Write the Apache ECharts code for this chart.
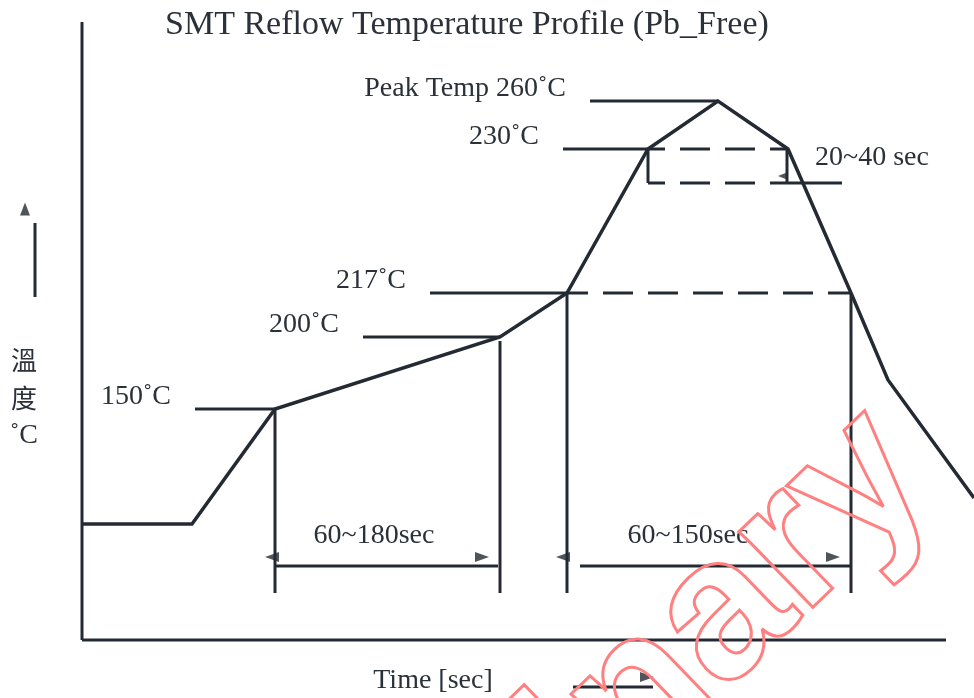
<!DOCTYPE html>
<html><head><meta charset="utf-8">
<script src="https://cdn.jsdelivr.net/npm/echarts@6/dist/echarts.min.js"></script>
<style>html,body{margin:0;padding:0;background:#fff}#c{width:974px;height:698px}</style>
</head><body><div id="c"></div><script>
// ---- schematic data (diagram units: time along x, temperature level along y) ----
const profileTime  = [0, 110, 193, 418, 485, 566, 636, 706, 769, 806, 892];
const profileLevel = [116, 116, 231, 303, 347, 491, 539, 491, 347, 260, 142];

// axes of the diagram (time axis and temperature axis)
const axisTimeEnd  = 864;
const axisLevelEnd = 618;

// solid temperature reference lines
const refLabels = ['150˚C', '200˚C', '217˚C', '230˚C', 'Peak Temp 260˚C'];
const refLevel  = [231, 303, 347, 491, 539];
const refFrom   = [113, 281, 348, 481, 508];
const refTo     = [193, 418, 485, 566, 636];

// dashed lines (217 liquidus span, 230 window top & bottom)
const dashLevel = [347, 491, 457];
const dashFrom  = [485, 566, 566];
const dashTo    = [769, 706, 706];

// vertical marker lines
const vertX      = [193, 418, 485, 769, 566, 705];
const vertTop    = [231, 299, 347, 347, 491, 491];
const vertBottom = [47, 47, 47, 47, 457, 457];

// extra solid segments: window bottom extension, dimension lines, axis-name arrows
const segX1 = [706, 193, 498, 491, -47];
const segY1 = [457, 74, 74, -47, 417];
const segX2 = [760, 416, 768, 571, -47];
const segY2 = [457, 74, 74, -47, 343];

// arrow heads: position and direction (deg, ccw from up)
const arrowX   = [190, 400, 481, 751, 701, 565, -57];
const arrowY   = [83, 83, 83, 83, 464, -37, 431];
const arrowDir = [90, -90, 90, -90, 90, -90, 0];

// annotations
const noteTexts = ['20~40 sec', '60~180sec', '60~150sec', 'Time [sec]'];
const noteX     = [733, 292, 606, 351];
const noteY     = [482, 104, 104, -41];
const noteAlign = ['left', 'center', 'center', 'center'];

const yNameChars = ['溫', '度', '˚C'];
const yNameX     = [-58, -58, -58];
const yNameY     = [280, 242, 204];

const titleText = 'SMT Reflow Temperature Profile (Pb_Free)';
const watermark = 'Preliminary';

// ---- chart ----
const INK = '#242a33';
const SERIF = '"Liberation Serif", "Times New Roman", serif';
const DASH_OFFSET = [9, 13, 13];
const chart = echarts.init(document.getElementById('c'), null, {renderer: 'canvas'});

function seg(a, b, dashed, w, off) {
  return {
    type: 'line', data: [a, b], symbol: 'none', clip: false, silent: true,
    animation: false, z: 3,
    lineStyle: {color: INK, width: w || 3, type: dashed ? [30, 15] : 'solid',
                dashOffset: off || 0, cap: 'butt'}
  };
}

const series = [];
series.push(seg([0, 0], [axisTimeEnd, 0], false, 3));
series.push(seg([0, 0], [0, axisLevelEnd], false, 3));
series.push({
  type: 'line', data: profileTime.map((t, i) => [t, profileLevel[i]]),
  symbol: 'none', clip: false, silent: true, animation: false, z: 4,
  lineStyle: {color: INK, width: 3.5, join: 'miter'}
});
refLevel.forEach((l, i) => series.push(seg([refFrom[i], l], [refTo[i], l], false)));
dashLevel.forEach((l, i) => series.push(seg([dashFrom[i], l], [dashTo[i], l], true, 3, DASH_OFFSET[i])));
vertX.forEach((x, i) => series.push(seg([x, vertTop[i]], [x, vertBottom[i]], false)));
segX1.forEach((x, i) => series.push(seg([x, segY1[i]], [segX2[i], segY2[i]], false)));
series.push({
  type: 'scatter', symbol: 'triangle', clip: false, silent: true, animation: false, z: 5,
  itemStyle: {color: INK},
  data: arrowX.map((x, i) => ({
    value: [x, arrowY[i]], symbolRotate: arrowDir[i],
    symbolSize: i === 6 ? [10, 13] : (i === 4 ? [8, 10] : [10, 14])
  }))
});

chart.setOption({
  animation: false,
  backgroundColor: '#ffffff',
  title: {
    text: titleText, left: 160, top: 3,
    textStyle: {fontFamily: SERIF, fontSize: 34, fontWeight: 'normal', color: '#2b3039'}
  },
  grid: {left: 0, right: 0, top: 0, bottom: 0},
  xAxis: {
    type: 'value', min: -82, max: 892, show: false,
    axisLine: {show: false}, axisTick: {show: false}, axisLabel: {show: false}, splitLine: {show: false}
  },
  yAxis: {
    type: 'value', min: -58, max: 640, show: false,
    axisLine: {show: false}, axisTick: {show: false}, axisLabel: {show: false}, splitLine: {show: false}
  },
  series: series
});

function px(x, y) { return chart.convertToPixel({gridIndex: 0}, [x, y]); }
function txt(str, p, align, size, family, color) {
  return {
    type: 'text', x: p[0], y: p[1], silent: true, z: 10,
    style: {text: str, fill: color || '#2b3039', font: (size || 28) + 'px ' + (family || SERIF),
            textAlign: align, textVerticalAlign: 'middle'}
  };
}
const graphics = [];
refLevel.forEach((l, i) => {
  const p = px(refFrom[i], l);
  graphics.push(txt(refLabels[i], [p[0] - 24, p[1] - 12], 'right'));
});
noteTexts.forEach((t, i) => graphics.push(txt(t, px(noteX[i], noteY[i]), noteAlign[i])));
yNameChars.forEach((c, i) => graphics.push(
  txt(c, px(yNameX[i], yNameY[i]), 'center', i < 2 ? 26 : 28,
      i < 2 ? '"Noto Sans CJK TC", sans-serif' : SERIF)));
const wm = px(888, 122);
graphics.push({
  type: 'text', x: wm[0], y: wm[1], rotation: 44 * Math.PI / 180, silent: true, z: 20,
  style: {text: watermark, font: 'bold 200px "Liberation Sans", Arial, sans-serif',
          fill: 'rgba(0,0,0,0)', stroke: '#ff8080', lineWidth: 3,
          textAlign: 'right', textVerticalAlign: 'bottom'}
});
chart.setOption({graphic: graphics});
</script></body></html>
